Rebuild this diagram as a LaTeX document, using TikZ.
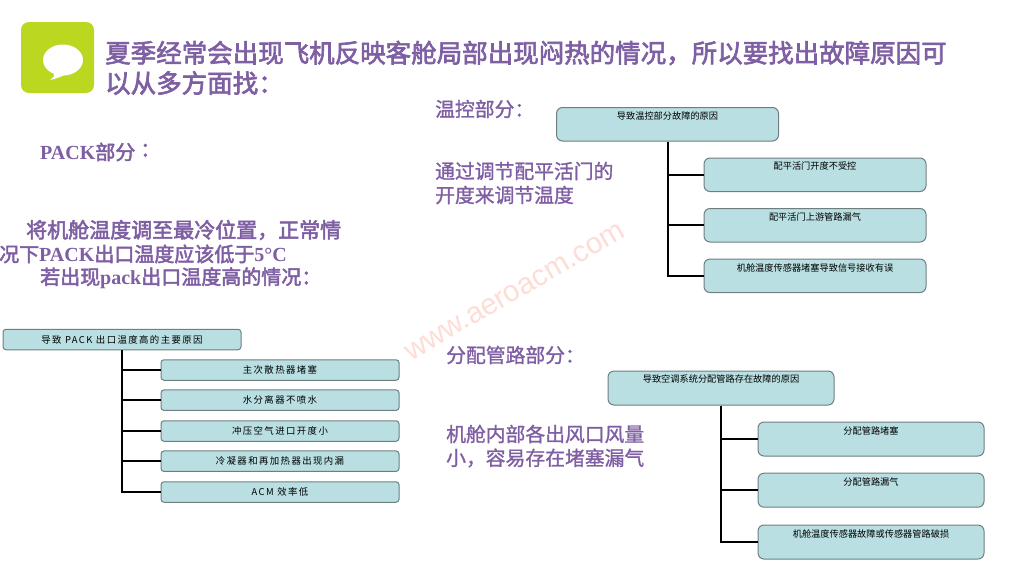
\documentclass[tikz,border=0pt]{standalone}
\usepackage{fontspec}
\setmainfont{Noto Sans CJK SC}
\newfontfamily\titlef{Noto Sans CJK SC}[FakeBold=2.5]
\newfontfamily\headf{Noto Sans CJK SC}[FakeBold=1.2]
\newfontfamily\latf{Liberation Serif Bold}
\newfontfamily\packf{Noto Sans CJK SC}[LetterSpace=15]
\newfontfamily\smallf{Noto Sans CJK SC}
\newfontfamily\wmf{Liberation Sans}
\newcommand\fwcomma{\char"FF0C\relax}
\newcommand\fwcolon{\char"FF1A\relax}
\definecolor{purp}{HTML}{7F5FA3}
\definecolor{boxfill}{HTML}{B9DFE2}
\definecolor{boxline}{HTML}{6F7F80}
\definecolor{leaf}{HTML}{BCD71F}
\definecolor{wm}{HTML}{FDDDD6}
\tikzset{
 x=1pt,y=-1pt,
 titletext/.style={anchor=west,inner sep=0,text=purp,font=\titlef\fontsize{25.5}{30}\selectfont},
 headtext/.style={anchor=west,inner sep=0,text=purp,font=\headf\fontsize{19.8}{24}\selectfont},
 packtext/.style={anchor=west,inner sep=0,text=purp,font=\titlef\fontsize{20}{24}\selectfont},
 packbox/.style={draw=boxline,line width=1pt,fill=boxfill,rounded corners=3pt,inner sep=0,minimum width=238pt,minimum height=20.5pt,font=\packf\fontsize{9.4}{11}\selectfont},
 tbox/.style={draw=boxline,line width=1pt,fill=boxfill,rounded corners=6pt,inner sep=0,minimum width=222pt,minimum height=33.5pt},
 dbox/.style={tbox,minimum width=226pt,minimum height=34pt},
 toplabel/.style={anchor=north,yshift=-4.5pt,inner sep=0,font=\smallf\fontsize{9.2}{11}\selectfont},
 link/.style={draw=black,line width=2pt},
}
\begin{document}
\begin{tikzpicture}
\useasboundingbox (0,0) rectangle (1024,576);
\fill[white] (0,0) rectangle (1024,576);
% icon
\fill[leaf,rounded corners=8pt] (21,22) rectangle (94,93);
\fill[white] (63,60) ellipse [x radius=20,y radius=15.5];
\fill[white] (54,72) .. controls (55,76) and (53,78) .. (50,80) .. controls (56,79) and (62,76) .. (67,74) -- cycle;
% watermark
\node[text=wm,rotate=30,inner sep=0,font=\wmf\fontsize{29.5}{32}\selectfont] (wmark) at (515,292) {www.aeroacm.com};
% title
\node[titletext] (t1) at (105,53) {夏季经常会出现飞机反映客舱局部出现闷热的情况\fwcomma 所以要找出故障原因可};
\node[titletext] (t2) at (105,83) {以从多方面找\fwcolon};
% left text
\node[packtext] (p0) at (40,152) {{\latf PACK}部分\hspace{5pt}\raisebox{3pt}{\fwcolon}};
\node[packtext,font=\titlef\fontsize{21}{24}\selectfont] (p1) at (26,230) {将机舱温度调至最冷位置\fwcomma 正常情};
\node[packtext] (p2) at (-1,254) {况下{\latf PACK}出口温度应该低于{\latf 5°C}};
\node[packtext] (p3) at (40,278) {若出现{\latf pack}出口温度高的情况\fwcolon};
% right text
\node[headtext] (h1) at (435,109) {温控部分\fwcolon};
\node[headtext] (h2) at (435,171) {通过调节配平活门的};
\node[headtext] (h3) at (435,195) {开度来调节温度};
\node[headtext] (h4) at (446,355) {分配管路部分\fwcolon};
\node[headtext] (h5) at (446,434) {机舱内部各出风口风量};
\node[headtext] (h6) at (446,458) {小\fwcomma 容易存在堵塞漏气};
% PACK tree
\node[packbox] (a0) at (122,339.5) {导致 PACK 出口温度高的主要原因};
\node[packbox] (a1) at (280,370) {主次散热器堵塞};
\node[packbox] (a2) at (280,400.2) {水分离器不喷水};
\node[packbox] (a3) at (280,431) {冲压空气进口开度小};
\node[packbox] (a4) at (280,461.2) {冷凝器和再加热器出现内漏};
\node[packbox] (a5) at (280,492) {ACM 效率低};
\foreach \c in {a1,a2,a3,a4,a5} \draw[link] (a0.south) |- (\c.west);
% temperature tree
\node[tbox,label={[toplabel]north:导致温控部分故障的原因}] (b0) at (667.5,124.25) {};
\node[tbox,label={[toplabel]north:配平活门开度不受控}] (b1) at (815,174.75) {};
\node[tbox,label={[toplabel]north:配平活门上游管路漏气}] (b2) at (815,225.25) {};
\node[tbox,label={[toplabel]north:机舱温度传感器堵塞导致信号接收有误}] (b3) at (815,275.75) {};
\foreach \c in {b1,b2,b3} \draw[link] (b0.south) |- (\c.west);
% distribution tree
\node[dbox,label={[toplabel]north:导致空调系统分配管路存在故障的原因}] (c0) at (721,388) {};
\node[dbox,label={[toplabel]north:分配管路堵塞}] (c1) at (871,439) {};
\node[dbox,label={[toplabel]north:分配管路漏气}] (c2) at (871,490.2) {};
\node[dbox,label={[toplabel]north:机舱温度传感器故障或传感器管路破损}] (c3) at (871,542) {};
\foreach \c in {c1,c2,c3} \draw[link] (c0.south) |- (\c.west);
\end{tikzpicture}
\end{document}
